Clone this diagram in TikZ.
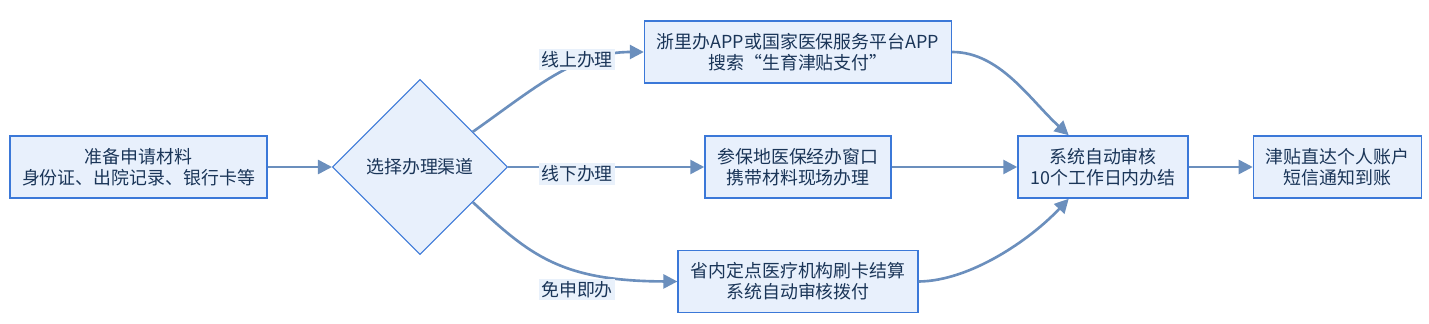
\documentclass[tikz,border=0pt]{standalone}
\usepackage{fontspec}
\setmainfont{Noto Sans CJK SC}
\usetikzlibrary{shapes.geometric, arrows.meta, calc}
\definecolor{boxfill}{RGB}{232,240,252}
\definecolor{boxline}{RGB}{59,120,216}
\definecolor{flowline}{RGB}{107,143,189}
\definecolor{textnavy}{RGB}{26,53,88}
\definecolor{lblfill}{RGB}{233,241,251}

\begin{document}
\begin{tikzpicture}[x=0.02cm, y=-0.02cm,
  box/.style={draw=boxline, fill=boxfill, line width=0.9pt, minimum height=1.24cm, inner xsep=7pt, align=center, font=\fontsize{10.2}{12}\selectfont, text=textnavy},
  pick/.style={diamond, aspect=1, draw=boxline, fill=boxfill, line width=0.6pt, minimum size=3.5cm, inner sep=0pt, font=\fontsize{10.2}{12}\selectfont, text=textnavy},
  lbl/.style={fill=lblfill, inner sep=1.5pt, font=\fontsize{10.2}{12}\selectfont, text=textnavy},
  flow/.style={draw=flowline, line width=1.5pt, -{Triangle[length=0.28cm, width=0.28cm]}},
]
  \useasboundingbox (0,0) rectangle (1429,324);

  \node[box] (prep) at (138.5,167) {准备申请材料\\身份证、出院记录、银行卡等};
  \node[pick] (choose) at (420,167) {选择办理渠道};
  \node[box] (online) at (798,52) {浙里办APP或国家医保服务平台APP\\搜索“生育津贴支付”};
  \node[box] (offline) at (798,167) {参保地医保经办窗口\\携带材料现场办理};
  \node[box] (auto) at (798,281.5) {省内定点医疗机构刷卡结算\\系统自动审核拨付};
  \node[box] (audit) at (1103,167) {系统自动审核\\10个工作日内办结};
  \node[box] (paid) at (1337.5,167) {津贴直达个人账户\\短信通知到账};

  % Channels
  \draw[flow] (prep.east) -- (choose.west);
  \draw[flow] ($(choose.north)!0.6!(choose.east)$) .. controls (535,88) and (575,52) .. (online.west);
  \draw[flow] (choose.east) -- (offline.west);
  \draw[flow] ($(choose.south)!0.6!(choose.east)$) .. controls (530,255) and (560,281) .. (auto.west);

  % Into the audit
  \draw[flow] (online.east) .. controls (1000,52) and (1030,100) .. ($(audit.north west)!0.3!(audit.north east)$);
  \draw[flow] (offline.east) -- (audit.west);
  \draw[flow] (auto.east) .. controls (970,281) and (1030,240) .. ($(audit.south west)!0.3!(audit.south east)$);
  \draw[flow] (audit.east) -- (paid.west);

  % Labels
  \node[lbl] (lonline) at (577,59.5) {线上办理};
  \node[lbl] (loffline) at (577,174) {线下办理};
  \node[lbl] (lauto) at (577,289.5) {免申即办};
\end{tikzpicture}
\end{document}
